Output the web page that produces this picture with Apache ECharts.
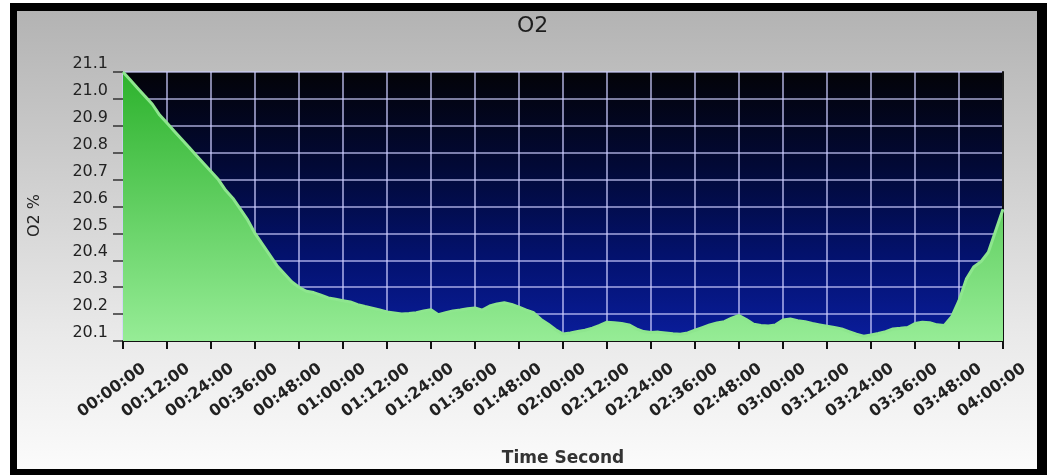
<!DOCTYPE html>
<html><head><meta charset="utf-8">
<script src="https://cdn.jsdelivr.net/npm/echarts@6/dist/echarts.min.js"></script>
<style>html,body{margin:0;padding:0;background:#fff}#c{width:1047px;height:475px}</style>
</head><body><div id="c"></div>
<script>
const titleText = 'O2';
const yAxisName = 'O2 %';
const xAxisName = 'Time Second';
const yMin = 20.1, yMax = 21.1, yStep = 0.1;
const xMin = 0, xMax = 240, xStep = 12;
const xTickLabels = ['00:00:00','00:12:00','00:24:00','00:36:00','00:48:00','01:00:00','01:12:00','01:24:00','01:36:00','01:48:00','02:00:00','02:12:00','02:24:00','02:36:00','02:48:00','03:00:00','03:12:00','03:24:00','03:36:00','03:48:00','04:00:00'];
const timeMinutes = [0,2,4,6,8,10,12,14,16,18,20,22,24,26,28,30,32,34,36,38,40,42,44,46,48,50,52,54,56,58,60,62,64,66,68,70,72,74,76,78,80,82,84,86,88,90,92,94,96,98,100,102,104,106,108,110,112,114,116,118,120,122,124,126,128,130,132,134,136,138,140,142,144,146,148,150,152,154,156,158,160,162,164,166,168,170,172,174,176,178,180,182,184,186,188,190,192,194,196,198,200,202,204,206,208,210,212,214,216,218,220,222,224,226,228,230,232,234,236,238,240];
const o2Values = [21.10,21.07,21.04,21.01,20.98,20.94,20.91,20.88,20.85,20.82,20.79,20.76,20.73,20.70,20.66,20.63,20.59,20.55,20.50,20.46,20.42,20.38,20.35,20.32,20.30,20.285,20.28,20.27,20.26,20.255,20.25,20.245,20.235,20.228,20.222,20.215,20.208,20.204,20.200,20.202,20.205,20.212,20.216,20.198,20.205,20.212,20.215,20.220,20.223,20.215,20.230,20.238,20.242,20.236,20.226,20.215,20.205,20.180,20.162,20.142,20.126,20.130,20.135,20.140,20.148,20.158,20.170,20.168,20.165,20.160,20.145,20.135,20.132,20.133,20.130,20.127,20.125,20.130,20.140,20.150,20.160,20.167,20.172,20.185,20.195,20.180,20.162,20.158,20.156,20.160,20.178,20.182,20.175,20.172,20.165,20.160,20.155,20.150,20.145,20.135,20.125,20.118,20.122,20.128,20.135,20.145,20.147,20.150,20.165,20.170,20.168,20.160,20.158,20.190,20.250,20.330,20.375,20.395,20.430,20.510,20.590];

const seriesData = timeMinutes.map((t, i) => [t, o2Values[i]]);
const font = 'DejaVu Sans';
const gridLineStyle = { color: 'rgba(205,205,255,0.8)', width: 1.6 };

const chart = echarts.init(document.getElementById('c'), null, { renderer: 'canvas' });
chart.setOption({
  animation: false,
  backgroundColor: '#ffffff',
  graphic: [
    { type: 'rect', z: -100, shape: { x: 10, y: 3, width: 1037, height: 472 }, style: { fill: '#000' } },
    { type: 'rect', z: -99, shape: { x: 17, y: 11, width: 1020, height: 458 },
      style: { fill: new echarts.graphic.LinearGradient(0, 0, 0, 1, [
        { offset: 0, color: '#b3b3b3' }, { offset: 0.3, color: '#cacaca' },
        { offset: 0.7, color: '#e9e9e9' }, { offset: 1, color: '#fbfbfb' }]) } }
  ],
  title: {
    text: titleText, left: 512, top: 10,
    textStyle: { fontFamily: font, fontSize: 22, fontWeight: 'normal', color: '#1e1e1e' }
  },
  grid: [
    { left: 123, top: 72, width: 880, height: 269, show: true, borderWidth: 0,
      backgroundColor: new echarts.graphic.LinearGradient(0, 0, 0, 1, [
        { offset: 0, color: '#030308' }, { offset: 0.35, color: '#020936' },
        { offset: 0.7, color: '#031270' }, { offset: 1, color: '#0a1d9c' }]) },
    { left: 144, top: 72, width: 880, height: 269, show: false }
  ],
  xAxis: [
    { type: 'value', gridIndex: 0, min: xMin, max: xMax, interval: xStep,
      axisLine: { show: true, lineStyle: { color: '#111', width: 2 } },
      axisTick: { show: true, length: 8, lineStyle: { color: '#111', width: 2 } },
      axisLabel: { show: false },
      splitLine: { show: true, lineStyle: gridLineStyle },
      name: xAxisName, nameLocation: 'middle', nameGap: 109,
      nameTextStyle: { fontFamily: font, fontSize: 17, fontWeight: 'bold', color: '#333' } },
    { type: 'value', gridIndex: 1, min: xMin, max: xMax, interval: xStep,
      axisLine: { show: false }, axisTick: { show: false }, splitLine: { show: false },
      axisLabel: { show: true, rotate: 36, margin: 26, fontFamily: font, fontSize: 16, fontWeight: 'bold', color: '#222',
        formatter: v => xTickLabels[Math.round(v / xStep)] } }
  ],
  yAxis: [
    { type: 'value', gridIndex: 0, min: yMin, max: yMax, interval: yStep,
      axisLine: { show: false },
      axisTick: { show: true, length: 10, lineStyle: { color: '#333', width: 1.5 } },
      axisLabel: { show: true, margin: 15, fontFamily: font, fontSize: 16, color: '#222',
        verticalAlign: 'bottom', lineHeight: 16, formatter: v => v.toFixed(1) },
      splitLine: { show: true, lineStyle: gridLineStyle },
      name: yAxisName, nameLocation: 'middle', nameGap: 80,
      nameTextStyle: { fontFamily: font, fontSize: 16, color: '#222', padding: [0, 18, 0, 0] } },
    { type: 'value', gridIndex: 0, position: 'right', min: yMin, max: yMax, interval: yStep,
      axisLine: { show: true, lineStyle: { color: '#111', width: 2 } },
      axisTick: { show: false }, axisLabel: { show: false }, splitLine: { show: false } },
    { type: 'value', gridIndex: 1, min: yMin, max: yMax, show: false }
  ],
  series: [{
    type: 'line', xAxisIndex: 0, yAxisIndex: 0, data: seriesData,
    showSymbol: false, symbol: 'none', smooth: false, sampling: 'none',
    lineStyle: { color: '#8ee68e', width: 3 },
    areaStyle: { origin: 'start', opacity: 1,
      color: new echarts.graphic.LinearGradient(0, 0, 0, 1, [
        { offset: 0, color: '#2db22d' }, { offset: 0.45, color: '#5ccc5c' }, { offset: 1, color: '#96ec96' }]) }
  }]
});
</script></body></html>
